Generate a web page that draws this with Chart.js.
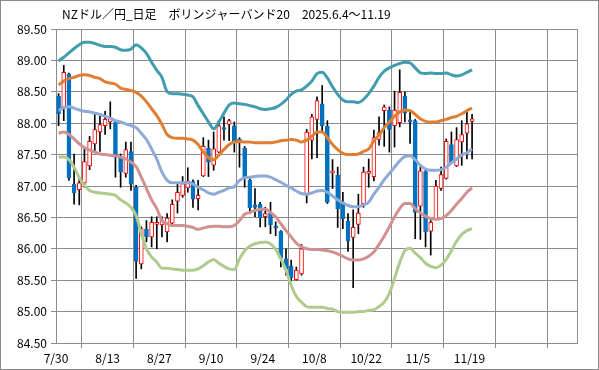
<!DOCTYPE html>
<html>
<head>
<meta charset="utf-8">
<script src="https://cdn.jsdelivr.net/npm/chart.js@4/dist/chart.umd.min.js"></script>
<style>
html,body{margin:0;padding:0;background:#fff;}
#wrap{width:597px;height:368px;border:1px solid #8a8a8a;}
canvas{display:block;}
</style>
</head>
<body>
<div id="wrap"><canvas id="c" width="597" height="368"></canvas></div>
<script>
const chartTitle = 'NZドル／円_日足　ボリンジャーバンド20　2025.6.4〜11.19';
const tickLabels = ['7/30','8/13','8/27','9/10','9/24','10/8','10/22','11/5','11/19'];
const dates = ['7/30','7/31','8/1','8/4','8/5','8/6','8/7','8/8','8/11','8/12',
 '8/13','8/14','8/15','8/18','8/19','8/20','8/21','8/22','8/25','8/26',
 '8/27','8/28','8/29','9/1','9/2','9/3','9/4','9/5','9/8','9/9',
 '9/10','9/11','9/12','9/15','9/16','9/17','9/18','9/19','9/22','9/23',
 '9/24','9/25','9/26','9/29','9/30','10/1','10/2','10/3','10/6','10/7',
 '10/8','10/9','10/10','10/13','10/14','10/15','10/16','10/17','10/20','10/21',
 '10/22','10/23','10/24','10/27','10/28','10/29','10/30','10/31','11/3','11/4',
 '11/5','11/6','11/7','11/10','11/11','11/12','11/13','11/14','11/17','11/18','11/19'];
const opens = [88.43,88.26,88.78,87.03,86.94,87.05,87.32,87.67,87.86,87.96,
 88.02,88.01,87.47,87.20,87.55,86.98,85.76,86.31,86.19,86.39,
 86.38,86.27,86.41,86.76,86.85,86.97,87.07,86.80,87.16,87.60,
 87.33,87.54,87.93,87.98,87.96,87.74,87.60,87.09,86.70,86.71,
 86.51,86.57,86.36,86.28,85.84,85.73,85.51,85.60,86.87,87.73,
 88.06,88.31,87.95,87.21,87.17,86.74,86.44,86.18,86.39,86.72,
 87.20,87.15,87.74,88.20,88.21,87.96,88.01,88.43,88.04,88.04,
 86.68,87.23,86.28,86.48,86.96,87.12,87.66,87.32,87.70,87.84,88.03];
const highs = [88.47,88.92,88.80,87.51,87.12,87.61,87.79,88.15,88.11,88.19,
 88.34,88.04,87.51,87.70,87.70,87.01,86.35,86.45,86.51,86.51,
 86.51,86.56,86.78,87.04,87.15,87.29,87.10,87.09,87.77,87.73,
 87.86,88.04,88.10,88.06,88.02,87.77,87.63,87.14,86.96,86.74,
 86.66,86.74,86.43,86.29,86.00,85.82,85.71,86.07,87.90,88.14,
 88.42,88.60,88.04,87.42,87.30,86.90,86.56,86.62,86.87,87.30,
 87.43,87.89,88.10,88.29,88.26,88.51,88.85,88.50,88.18,88.06,
 87.31,87.27,86.45,87.09,87.30,87.75,87.86,87.93,88.04,88.20,88.14];
const lows = [87.96,88.04,87.09,86.71,86.70,86.98,87.26,87.54,87.55,87.82,
 87.91,87.14,86.98,87.14,86.93,85.53,85.68,86.11,86.03,86.00,
 86.19,86.11,86.40,86.57,86.82,86.90,86.66,86.62,87.15,87.15,
 87.25,87.53,87.73,87.72,87.54,87.30,86.98,86.56,86.51,86.35,
 86.35,86.24,86.21,85.71,85.58,85.49,85.50,85.58,86.73,87.43,
 87.45,87.86,86.72,86.96,86.34,86.32,85.96,85.38,86.24,86.66,
 86.98,87.08,87.65,87.63,87.54,87.62,87.94,88.02,87.68,86.16,
 86.15,86.03,85.90,86.47,86.93,87.11,87.37,87.31,87.33,87.43,87.43];
const closes = [88.15,88.81,87.13,86.89,87.05,87.39,87.71,87.90,87.98,88.06,
 88.09,87.46,87.22,87.58,87.03,85.80,86.32,86.19,86.42,86.42,
 86.45,86.49,86.71,86.90,87.04,87.08,86.79,86.85,87.63,87.38,
 87.59,87.96,87.90,88.04,87.70,87.71,87.14,86.65,86.66,86.49,
 86.56,86.38,86.33,85.85,85.67,85.54,85.66,86.00,87.86,88.10,
 88.36,87.96,86.74,87.22,86.64,86.48,86.12,86.34,86.57,87.22,
 87.22,87.77,87.85,88.26,87.90,88.21,88.49,88.16,88.02,86.58,
 87.24,86.27,86.42,87.00,87.18,87.71,87.37,87.74,87.82,87.99,88.07];
const upper2 = [88.99,89.05,89.12,89.19,89.25,89.29,89.29,89.27,89.24,89.22,
 89.22,89.21,89.17,89.16,89.18,89.25,89.20,89.11,88.97,88.84,
 88.73,88.50,88.47,88.47,88.46,88.45,88.42,88.28,88.15,88.02,
 87.91,88.02,88.16,88.29,88.32,88.31,88.30,88.28,88.26,88.23,
 88.22,88.23,88.25,88.30,88.37,88.46,88.51,88.53,88.59,88.67,
 88.79,88.81,88.72,88.58,88.46,88.37,88.34,88.34,88.33,88.38,
 88.47,88.59,88.73,88.83,88.88,88.92,88.95,88.97,88.96,88.88,
 88.80,88.79,88.80,88.79,88.79,88.80,88.77,88.75,88.77,88.81,88.85];
const upper1 = [88.61,88.67,88.71,88.73,88.76,88.77,88.76,88.73,88.71,88.66,
 88.64,88.62,88.56,88.54,88.52,88.49,88.43,88.34,88.23,88.12,
 87.98,87.82,87.77,87.76,87.76,87.75,87.73,87.66,87.54,87.45,
 87.42,87.49,87.58,87.66,87.70,87.71,87.70,87.70,87.69,87.69,
 87.69,87.69,87.70,87.72,87.73,87.74,87.73,87.70,87.73,87.79,
 87.86,87.86,87.77,87.66,87.58,87.52,87.50,87.50,87.51,87.55,
 87.59,87.72,87.81,87.93,88.02,88.11,88.18,88.21,88.20,88.14,
 88.07,88.03,88.02,88.02,88.04,88.06,88.09,88.11,88.15,88.20,88.24];
const middle = [88.20,88.25,88.26,88.24,88.21,88.19,88.18,88.16,88.14,88.11,
 88.08,88.04,88.02,87.99,87.96,87.93,87.84,87.74,87.59,87.43,
 87.22,87.09,87.05,87.05,87.05,87.05,87.03,86.98,86.94,86.89,
 86.87,86.90,86.93,86.97,86.99,87.09,87.13,87.14,87.15,87.16,
 87.16,87.14,87.10,87.06,87.01,86.97,86.92,86.88,86.87,86.89,
 86.92,86.93,86.90,86.84,86.78,86.73,86.69,86.67,86.67,86.70,
 86.74,86.87,86.98,87.10,87.20,87.30,87.40,87.47,87.48,87.42,
 87.33,87.27,87.25,87.25,87.26,87.30,87.37,87.43,87.49,87.53,87.59];
const lower1 = [87.84,87.86,87.82,87.75,87.67,87.61,87.57,87.54,87.51,87.50,
 87.49,87.48,87.46,87.43,87.38,87.31,87.14,86.96,86.78,86.64,
 86.45,86.40,86.37,86.37,86.37,86.36,86.34,86.31,86.33,86.35,
 86.36,86.36,86.35,86.35,86.37,86.45,86.55,86.58,86.61,86.63,
 86.63,86.58,86.51,86.40,86.29,86.19,86.09,86.03,86.00,85.99,
 85.99,85.98,85.97,85.95,85.92,85.88,85.84,85.82,85.82,85.84,
 85.88,85.95,86.07,86.20,86.35,86.51,86.64,86.72,86.72,86.64,
 86.57,86.52,86.48,86.47,86.48,86.53,86.61,86.71,86.80,86.90,86.97];
const lower2 = [87.46,87.46,87.42,87.30,87.13,87.01,86.93,86.90,86.89,86.88,
 86.87,86.85,86.78,86.73,86.66,86.53,86.24,86.00,85.87,85.79,
 85.69,85.69,85.68,85.67,85.66,85.66,85.66,85.68,85.73,85.79,
 85.83,85.77,85.72,85.68,85.67,85.84,85.97,86.04,86.08,86.10,
 86.11,86.08,85.99,85.84,85.66,85.42,85.24,85.15,85.08,85.07,
 85.07,85.07,85.05,85.04,85.00,84.99,84.99,84.99,85.00,85.00,
 85.02,85.03,85.08,85.15,85.29,85.53,85.78,85.97,86.01,85.93,
 85.86,85.77,85.72,85.70,85.74,85.83,85.97,86.12,86.23,86.29,86.32];

const pos = i => i + 0.5;
const wickData = dates.map((d, i) => ({x: pos(i), y: [lows[i], highs[i]]}));
const bodyData = dates.map((d, i) => ({x: pos(i), y: [opens[i], closes[i]]}));
const lineData = arr => arr.map((v, i) => ({x: pos(i), y: v}));
const isUp = i => closes[i] >= opens[i];

const lineDs = (label, arr, color) => ({
  type: 'line', label, data: lineData(arr), borderColor: color, borderWidth: 3,
  pointRadius: 0, tension: 0.4, cubicInterpolationMode: 'monotone', fill: false, order: 0
});

const FONT = '"Noto Sans CJK JP", "Noto Sans", sans-serif';
const gridColor = '#8c8c8c';

const extras = {
  id: 'extras',
  afterDraw(chart) {
    const ctx = chart.ctx, a = chart.chartArea;
    ctx.save();
    ctx.strokeStyle = gridColor;
    ctx.lineWidth = 1;
    ctx.beginPath();
    ctx.moveTo(Math.round(a.right) + 0.5, a.top);
    ctx.lineTo(Math.round(a.right) + 0.5, a.bottom);
    ctx.stroke();
    ctx.fillStyle = '#000';
    ctx.font = '12px ' + FONT;
    ctx.textBaseline = 'middle';
    ctx.textAlign = 'left';
    ctx.fillText(chartTitle, 61, 13);
    ctx.restore();
  }
};

new Chart(document.getElementById('c'), {
  type: 'bar',
  data: {
    datasets: [
      lineDs('+2σ', upper2, '#409cae'),
      lineDs('+1σ', upper1, '#e07f34'),
      lineDs('20MA', middle, '#8eaad6'),
      lineDs('-1σ', lower1, '#d29090'),
      lineDs('-2σ', lower2, '#afcb8e'),
      {
        type: 'bar', label: 'body', data: bodyData, order: 1,
        barThickness: 4, grouped: false, borderSkipped: false, minBarLength: 2,
        backgroundColor: c => isUp(c.dataIndex) ? '#ffffff' : '#0070c0',
        borderColor: c => isUp(c.dataIndex) ? '#ff0000' : '#0070c0',
        borderWidth: 1
      },
      {
        type: 'bar', label: 'wick', data: wickData, order: 2,
        barThickness: 1, grouped: false, borderSkipped: false,
        backgroundColor: '#000000', borderWidth: 0
      }
    ]
  },
  options: {
    responsive: false,
    animation: false,
    events: [],
    layout: {padding: {top: 28, right: 21, left: 0, bottom: 0}},
    plugins: {legend: {display: false}, title: {display: false}, tooltip: {enabled: false}},
    scales: {
      x: {
        type: 'linear', min: 0, max: 100.8, offset: false,
        afterFit: s => { s.height = 26; },
        grid: {color: gridColor, borderDash: [4, 3], drawTicks: true, tickLength: 5, tickColor: gridColor, lineWidth: 1},
        border: {display: true, color: gridColor, width: 1},
        ticks: {
          stepSize: 10, includeBounds: false, autoSkip: false, maxRotation: 0, padding: 3,
          color: '#000', font: {family: FONT, size: 12},
          callback: v => (v % 10 === 0 && tickLabels[v / 10] !== undefined) ? tickLabels[v / 10] : ''
        }
      },
      y: {
        min: 84.5, max: 89.5,
        afterFit: s => { s.width = 55; },
        grid: {color: gridColor, borderDash: [4, 3], drawTicks: true, tickLength: 5, tickColor: gridColor, lineWidth: 1},
        border: {display: true, color: gridColor, width: 1},
        ticks: {
          stepSize: 0.5, padding: 4, color: '#000', font: {family: FONT, size: 12},
          callback: v => Number(v).toFixed(2)
        }
      }
    }
  },
  plugins: [extras]
});
</script>
</body>
</html>
